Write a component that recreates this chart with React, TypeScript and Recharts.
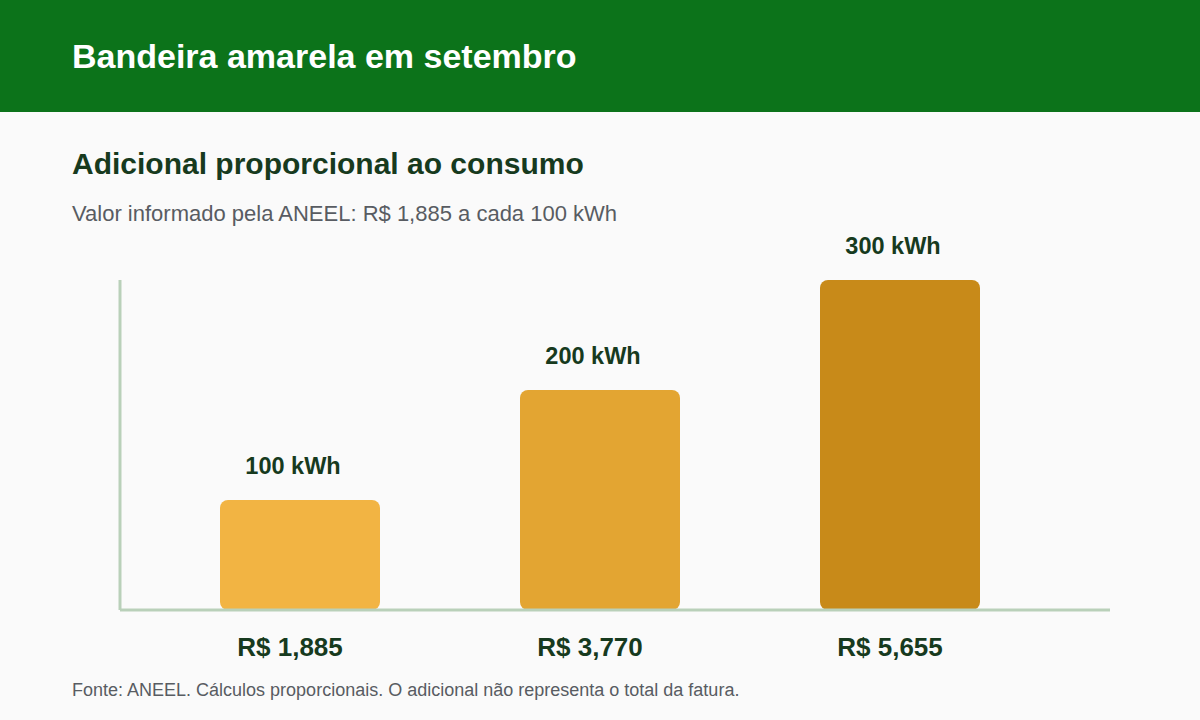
import React from 'react';
import { BarChart, Bar, XAxis, YAxis, Cell, LabelList } from 'recharts';

const categories = ['100 kWh', '200 kWh', '300 kWh'];
const values = [1.885, 3.77, 5.655];
const tickLabels = ['R$ 1,885', 'R$ 3,770', 'R$ 5,655'];
const barColors = ['#f2b443', '#e3a532', '#c88a19'];

const data = categories.map((name, i) => ({ name, value: values[i], price: tickLabels[i] }));

const FONT = '"Liberation Sans", Arial, Helvetica, sans-serif';
const DARK = '#173a1e';
const AXIS = '#b9d0b9';

// labels in the original sit a little left of the bar centre
const PriceTick = (props: any) => {
  const { x, y, index } = props;
  return (
    <text x={x - 10} y={y + 38} textAnchor="middle" fill={DARK} fontSize={26} fontWeight="bold" fontFamily={FONT}>
      {tickLabels[index]}
    </text>
  );
};

const TopLabel = (props: any) => {
  const { x, y, width, value } = props;
  return (
    <text x={x + width / 2 - 7} y={y - 26} textAnchor="middle" fill={DARK} fontSize={23.5} fontWeight="bold" fontFamily={FONT}>
      {value}
    </text>
  );
};

const App: React.FC = () => {
  return (
    <div style={{ position: 'absolute', left: 0, top: 0, width: 1200, height: 720, background: '#fafafa', fontFamily: FONT, overflow: 'hidden' }}>
      <div style={{ position: 'absolute', left: 0, top: 0, width: 1200, height: 112, background: '#0c731a' }} />
      <div style={{ position: 'absolute', left: 72, top: 37, fontSize: 34, fontWeight: 'bold', color: '#ffffff', lineHeight: '38px', whiteSpace: 'nowrap' }}>
        Bandeira amarela em setembro
      </div>
      <div style={{ position: 'absolute', left: 72, top: 147, fontSize: 30, fontWeight: 'bold', color: DARK, lineHeight: '34px', whiteSpace: 'nowrap' }}>
        Adicional proporcional ao consumo
      </div>
      <div style={{ position: 'absolute', left: 72, top: 201, fontSize: 22, color: '#585c62', lineHeight: '26px', whiteSpace: 'nowrap' }}>
        Valor informado pela ANEEL: R$ 1,885 a cada 100 kWh
      </div>
      <div style={{ position: 'absolute', left: 72, top: 679, fontSize: 18, color: '#585c62', lineHeight: '22px', whiteSpace: 'nowrap' }}>
        Fonte: ANEEL. Cálculos proporcionais. O adicional não representa o total da fatura.
      </div>
      <div style={{ position: 'absolute', left: 0, top: 0 }}>
        <BarChart width={1200} height={720} data={data} margin={{ top: 280, right: 90, bottom: 50, left: 119 }}>
          <XAxis
            dataKey="name"
            padding={{ left: 30, right: 60 }}
            axisLine={{ stroke: AXIS, strokeWidth: 3 }}
            tickLine={false}
            tick={<PriceTick />}
            height={60}
            interval={0}
          />
          <YAxis width={1} domain={[0, 5.655]} tick={false} tickLine={false} axisLine={{ stroke: AXIS, strokeWidth: 3 }} />
          <Bar dataKey="value" barSize={160} radius={8} isAnimationActive={false}>
            {data.map((d, i) => (
              <Cell key={d.name} fill={barColors[i]} />
            ))}
            <LabelList dataKey="name" content={<TopLabel />} />
          </Bar>
        </BarChart>
      </div>
    </div>
  );
};

export default App;
